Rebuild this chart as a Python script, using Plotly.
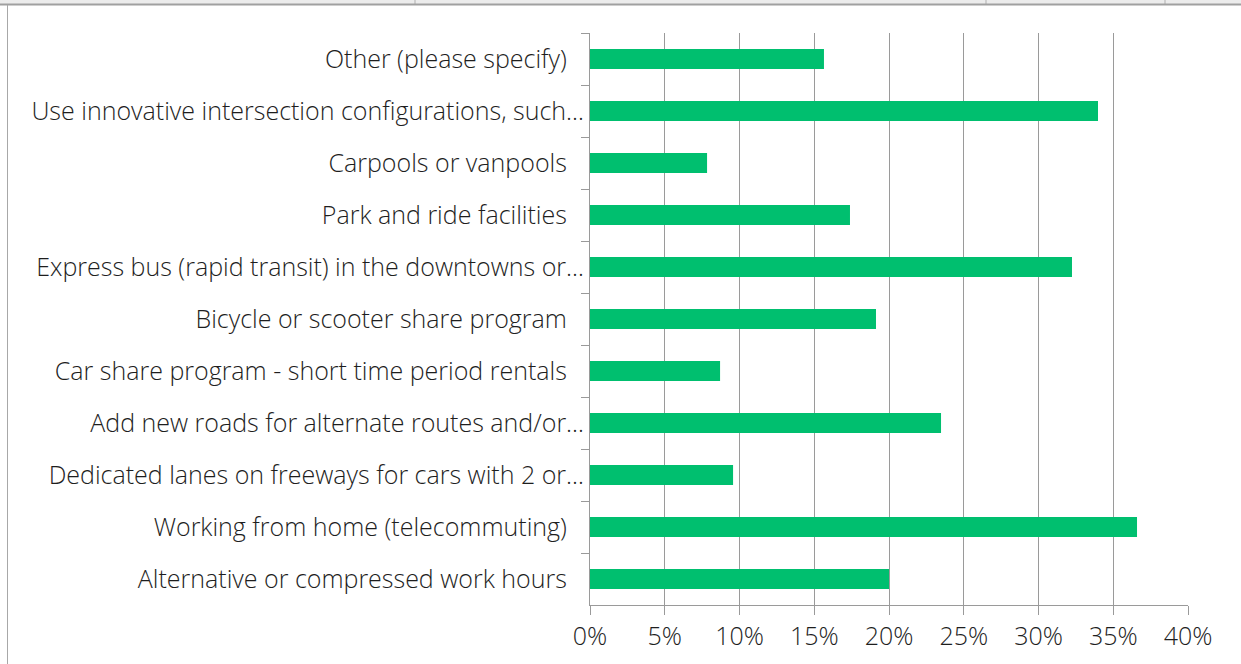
import plotly.graph_objects as go

NB = "\u00a0\u00a0\u2009"

categories = [
    "Other (please specify)" + NB,
    "Use innovative intersection configurations, such…",
    "Carpools or vanpools" + NB,
    "Park and ride facilities" + NB,
    "Express bus (rapid transit) in the downtowns or…",
    "Bicycle or scooter share program" + NB,
    "Car share program - short time period rentals" + NB,
    "Add new roads for alternate routes and/or…",
    "Dedicated lanes on freeways for cars with 2 or…",
    "Working from home (telecommuting)" + NB,
    "Alternative or compressed work hours" + NB,
]
values = [0.1565, 0.3398, 0.0783, 0.1739, 0.3224, 0.1913, 0.0870, 0.2348, 0.0957, 0.3659, 0.2000]
x_ticks = [0, 0.05, 0.10, 0.15, 0.20, 0.25, 0.30, 0.35, 0.40]
x_labels = ["0%", "5%", "10%", "15%", "20%", "25%", "30%", "35%", "40%"]

W, H = 1241, 664
L, R, T, B = 590, 53, 33, 59

fig = go.Figure()
fig.add_trace(go.Bar(
    x=values, y=categories, orientation="h",
    marker=dict(color="#00BF6F", line_width=0),
    width=0.38,
))

font = dict(family="Open Sans, sans-serif", size=25, color="#1e1e1e", weight=300)

fig.update_layout(
    width=W, height=H,
    margin=dict(l=L, r=R, t=T, b=B, autoexpand=False),
    paper_bgcolor="white", plot_bgcolor="white",
    showlegend=False,
    font=font,
    xaxis=dict(
        range=[0, 0.40], tickvals=x_ticks, ticktext=x_labels,
        showgrid=True, gridcolor="#9a9a9a", gridwidth=1,
        zeroline=False, showline=True, linecolor="#9a9a9a", linewidth=1,
        ticks="outside", ticklen=9, tickcolor="#9a9a9a",
        tickfont=font,
    ),
    yaxis=dict(
        categoryorder="array", categoryarray=categories,
        autorange="reversed",
        showgrid=False, zeroline=False,
        showline=True, linecolor="#9a9a9a", linewidth=1,
        ticks="outside", ticklen=8, tickcolor="#9a9a9a",
        tickson="boundaries", ticklabelstandoff=0,
        tickfont=font,
    ),
)

def px_x(p):
    return (p - L) / (W - L - R)

def px_y(p):
    return 1 - (p - T) / (H - T - B)

# window frame: top strip, top rule and left border
fig.add_shape(type="rect", xref="paper", yref="paper",
              x0=px_x(0), x1=px_x(W), y0=px_y(4), y1=px_y(0),
              fillcolor="#ececec", line_width=0, layer="below")
for xp in [415, 986, 1165]:
    fig.add_shape(type="line", xref="paper", yref="paper",
                  x0=px_x(xp), x1=px_x(xp), y0=px_y(4), y1=px_y(0),
                  line=dict(color="#b0b0b0", width=1))
fig.add_shape(type="line", xref="paper", yref="paper",
              x0=px_x(0), x1=px_x(W), y0=px_y(4.5), y1=px_y(4.5),
              line=dict(color="#a0a0a0", width=2))
fig.add_shape(type="line", xref="paper", yref="paper",
              x0=px_x(7.5), x1=px_x(7.5), y0=px_y(5), y1=px_y(H),
              line=dict(color="#a8a8a8", width=1))

# drop the page's default body margin so the figure sits at the window corner
fig.write_html("out.html", config={"displayModeBar": False},
               post_script="document.body.style.margin='0';")
